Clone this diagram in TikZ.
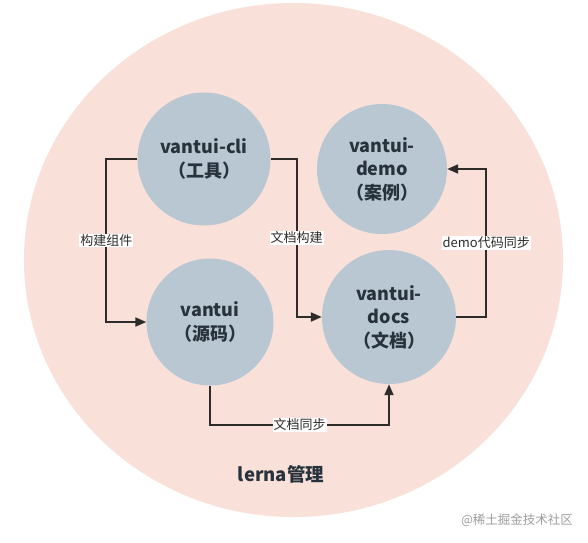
\documentclass[tikz,border=0pt]{standalone}
\usepackage{fontspec}
\setmainfont{Noto Sans CJK SC}
\usepackage{xcolor}
\usetikzlibrary{arrows.meta,calc}

\definecolor{lernabg}{HTML}{F9E1DA}
\definecolor{pkgfill}{HTML}{B8C7D1}
\definecolor{pkgtext}{HTML}{27323C}
\definecolor{linecol}{HTML}{2E2C2A}

\tikzset{
  pkg/.style={circle, fill=pkgfill, text=pkgtext, align=center, font=\fontsize{18}{23.5}\selectfont\bfseries, inner sep=0pt},
  conn/.style={line width=2pt, draw=linecol, -{Triangle[length=11pt,width=9pt]}},
  lbl/.style={fill=white, inner sep=1pt, font=\fontsize{13}{14}\selectfont, text=linecol}
}

\begin{document}
\begin{tikzpicture}[x=1pt,y=-1pt]
    % Canvas
    \useasboundingbox[fill=white] (0,0) rectangle (588,542);

    % lerna workspace
    \fill[lernabg] (293.5,260) ellipse [x radius=269.5, y radius=257];
    \node[text=pkgtext, font=\fontsize{18.5}{21}\selectfont\bfseries] (lerna) at (281,474) {lerna管理};

    % Packages
    \node[pkg, minimum size=133pt] (cli) at (204,159) {vantui-cli\\（工具）};
    \node[pkg, minimum size=130pt] (demo) at (382,169) {vantui-\\demo\\（案例）};
    \node[pkg, minimum size=127pt] (src) at (210,322) {vantui\\（源码）};
    \node[pkg, minimum size=134pt] (docs) at (389,317) {vantui-\\docs\\（文档）};

    % Flows
    \draw[conn] (cli.west) -- ++(-31,0) |- node[lbl, pos=0.25] {构建组件} (src.west);
    \draw[conn] (cli.east) -- ++(26,0) |- node[lbl, pos=0.25] {文档构建} (docs.west);
    \draw[conn] (docs.east) -- ++(30,0) |- node[lbl, pos=0.25] {demo代码同步} (demo.east);
    \draw[conn] (src.south) -- ++(0,39) -| node[lbl, pos=0.25] {文档同步} (docs.south);

    % Watermark
    \node[text=black!38, font=\fontsize{12.5}{14}\selectfont] (mark) at (517,520) {@稀土掘金技术社区};
\end{tikzpicture}
\end{document}
